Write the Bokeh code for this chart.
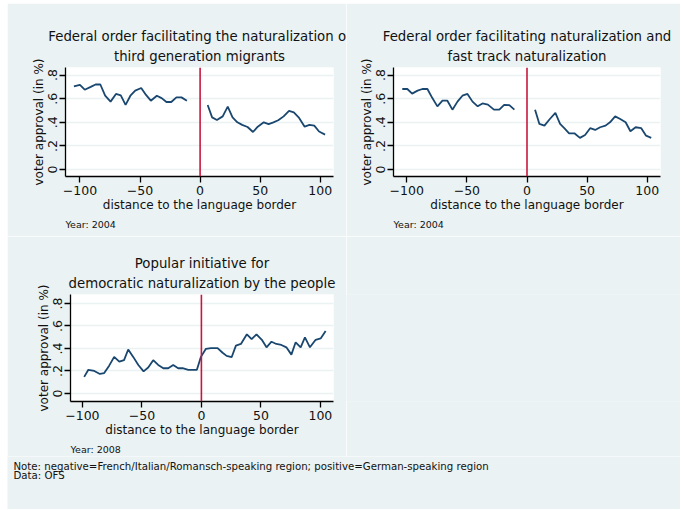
from bokeh.plotting import figure
from bokeh.models import Range1d, FixedTicker, CustomJSTickFormatter, Span, Title, Spacer
from bokeh.layouts import column, row
from bokeh.core.properties import value
from bokeh.embed import file_html
from bokeh.resources import INLINE

# ---------------- data ----------------
x_ticks = [-100, -50, 0, 50, 100]
y_ticks = [0, 0.2, 0.4, 0.6, 0.8]
border_x = 0

titles = [
    ["Federal order facilitating the naturalization of", "third generation migrants"],
    ["Federal order facilitating naturalization and", "fast track naturalization"],
    ["Popular initiative for", "democratic naturalization by the people"],
]
years = ["Year: 2004", "Year: 2004", "Year: 2008"]
x_label = "distance to the language border"
y_label = "voter approval (in %)"
note_lines = ["Note: negative=French/Italian/Romansch-speaking region; positive=German-speaking region",
              "Data: OFS"]

p1_left_x = [-105, -100, -96, -91, -87, -83, -79, -74.5, -70, -66, -62, -58, -54, -49, -45, -41,
             -36, -32, -28, -24, -19.7, -15.5, -11]
p1_left_y = [0.704, 0.716, 0.676, 0.70, 0.72, 0.72, 0.625, 0.575, 0.64, 0.628, 0.547, 0.625,
             0.668, 0.69, 0.632, 0.583, 0.625, 0.605, 0.572, 0.572, 0.611, 0.611, 0.583]
p1_right_x = [6.3, 10, 14, 18.8, 23, 27, 31, 35, 39.5, 44, 48, 53, 57, 61, 65, 69.5, 74, 78, 82,
              87, 91, 95, 99, 104]
p1_right_y = [0.547, 0.442, 0.42, 0.45, 0.532, 0.442, 0.40, 0.378, 0.36, 0.318, 0.363, 0.40,
              0.385, 0.40, 0.417, 0.45, 0.496, 0.484, 0.442, 0.363, 0.378, 0.372, 0.322, 0.296]

p2_left_x = [-103.7, -99.5, -95.5, -91, -87, -82.8, -78.7, -74.5, -70.3, -66.2, -62, -57.8,
             -53.7, -49.5, -45.3, -41, -37, -32.5, -27.5, -23, -19, -14.7, -10.5]
p2_left_y = [0.682, 0.682, 0.643, 0.668, 0.682, 0.682, 0.605, 0.535, 0.583, 0.583, 0.507,
             0.575, 0.625, 0.64, 0.575, 0.535, 0.56, 0.55, 0.507, 0.507, 0.547, 0.545, 0.507]
p2_right_x = [6.7, 10.3, 14.5, 19, 23.6, 27.5, 31, 35, 39.4, 44, 48.3, 52.5, 56.7, 60.8, 65.3,
              69, 73.3, 77.5, 82, 86, 90.3, 95, 99, 103.3]
p2_right_y = [0.507, 0.386, 0.372, 0.428, 0.479, 0.386, 0.35, 0.307, 0.307, 0.268, 0.293, 0.35,
              0.335, 0.358, 0.372, 0.40, 0.45, 0.428, 0.40, 0.324, 0.358, 0.35, 0.287, 0.268]

p3_x = [-98.5, -95, -90, -85.3, -81.7, -77.5, -73.3, -69, -65, -61.5, -57.3, -53, -48.6, -44.7,
        -40.5, -36.3, -32, -27.9, -23.7, -19.5, -15.8, -11, -7.4, -3.8, -0.4, 3.8, 8, 13.6, 17.8,
        21.2, 25.4, 29, 33.2, 38.2, 42.2, 46.3, 50.8, 54.7, 58.9, 63, 67.2, 71.4, 75.6, 79.2,
        83.4, 87, 91.2, 96, 100.2, 104.4]
p3_y = [0.147, 0.21, 0.20, 0.173, 0.181, 0.247, 0.325, 0.282, 0.296, 0.391, 0.325, 0.253, 0.196,
        0.23, 0.296, 0.253, 0.224, 0.224, 0.253, 0.224, 0.224, 0.21, 0.21, 0.21, 0.325, 0.397,
        0.403, 0.403, 0.362, 0.334, 0.322, 0.425, 0.44, 0.526, 0.483, 0.526, 0.477, 0.41, 0.46,
        0.44, 0.431, 0.41, 0.345, 0.455, 0.41, 0.498, 0.41, 0.477, 0.489, 0.555]

# ---------------- style ----------------
BG = "#EAF2F3"
LINE = "#1A476F"
RED = "#C8173F"
FONT = "DejaVu Sans"
TXT = "#111111"


def make_panel(title_lines, year, segments, xr, yr, width, height, mbl, mbr, mbt, mbb):
    p = figure(width=width, height=height, x_range=Range1d(*xr), y_range=Range1d(*yr),
               output_backend="svg", toolbar_location=None,
               min_border_left=mbl, min_border_right=mbr, min_border_top=mbt,
               min_border_bottom=mbb, border_fill_color=BG, background_fill_color="white",
               outline_line_color=None)
    # p.title is the outer (upper) line; the added title sits next to the frame
    p.title.text = title_lines[0]
    p.title.align = "center"
    p.title.text_font = FONT
    p.title.text_font_size = "13.3px"
    p.title.text_font_style = "normal"
    p.title.text_color = TXT
    p.title.standoff = 0
    p.add_layout(Title(text=title_lines[1], align="center", text_font=FONT,
                       text_font_size="13.3px", text_font_style="normal", text_color=TXT,
                       standoff=7), "above")

    for xs, ys in segments:
        p.line(xs, ys, line_color=LINE, line_width=1.8)
    p.add_layout(Span(location=border_x, dimension="height", line_color=RED, line_width=1.6))

    p.xaxis.ticker = FixedTicker(ticks=x_ticks)
    p.yaxis.ticker = FixedTicker(ticks=y_ticks)
    p.yaxis.formatter = CustomJSTickFormatter(
        code="return tick == 0 ? '0' : tick.toFixed(1).replace(/^0/, '');")
    for ax in (p.xaxis, p.yaxis):
        ax.axis_line_color = "black"
        ax.axis_line_width = 1.3
        ax.major_tick_line_color = "black"
        ax.major_tick_line_width = 1.3
        ax.major_tick_out = 6
        ax.major_tick_in = 0
        ax.minor_tick_line_color = None
        ax.major_label_text_font = FONT
        ax.major_label_text_font_size = "12.5px"
        ax.major_label_text_color = TXT
        ax.axis_label_text_font = FONT
        ax.axis_label_text_font_size = "12px"
        ax.axis_label_text_font_style = "normal"
        ax.axis_label_text_color = TXT
    p.xaxis.axis_label = x_label
    p.yaxis.axis_label = y_label
    p.xaxis.major_label_standoff = 3
    p.xaxis.axis_label_standoff = 0
    p.yaxis.major_label_orientation = "vertical"
    p.yaxis.major_label_standoff = 2
    p.yaxis.axis_label_standoff = 0

    p.xgrid.visible = False
    p.ygrid.grid_line_color = BG
    p.ygrid.grid_line_width = 1.5

    p.add_layout(Title(text=year, align="left", text_font=FONT, text_font_size="9.5px",
                       text_font_style="normal", text_color=TXT, standoff=4), "below")
    return p


p1 = make_panel(titles[0], years[0], [(p1_left_x, p1_left_y), (p1_right_x, p1_right_y)],
                (-112, 111), (-0.059, 0.864), 339, 233, 58, 13, 64, 60)
p2 = make_panel(titles[1], years[1], [(p2_left_x, p2_left_y), (p2_right_x, p2_right_y)],
                (-111, 111), (-0.059, 0.864), 334, 233, 47, 20, 64, 60)
p3 = make_panel(titles[2], years[2], [(p3_x, p3_y)],
                (-110, 111), (-0.072, 0.88), 339, 220, 63, 13, 58, 52)

blank = figure(width=334, height=220, output_backend="svg", toolbar_location=None,
               border_fill_color=BG, background_fill_color=BG, outline_line_color=None,
               min_border=0)
blank.axis.visible = False
blank.grid.visible = False

# notes strip: a pixel-scaled figure holding the two note lines
NOTE_W, NOTE_H = 673, 53
note_x = [6, 6]
note_baseline = [NOTE_H - 9.5, NOTE_H - 19]
notes = figure(width=NOTE_W, height=NOTE_H, x_range=Range1d(0, NOTE_W),
               y_range=Range1d(0, NOTE_H), output_backend="svg", toolbar_location=None,
               border_fill_color=BG, background_fill_color=BG, outline_line_color=None,
               min_border=0)
notes.axis.visible = False
notes.grid.visible = False
notes.text(x=note_x, y=note_baseline, text=note_lines, text_font=value(FONT),
           text_font_size=value("10.2px"), text_color=TXT, text_baseline="alphabetic",
           text_align="left")

content = column(row(p1, p2), row(p3, blank), notes)
layout = column(Spacer(height=3), row(Spacer(width=7), content))
open("out.html", "w").write(file_html(layout, INLINE))
